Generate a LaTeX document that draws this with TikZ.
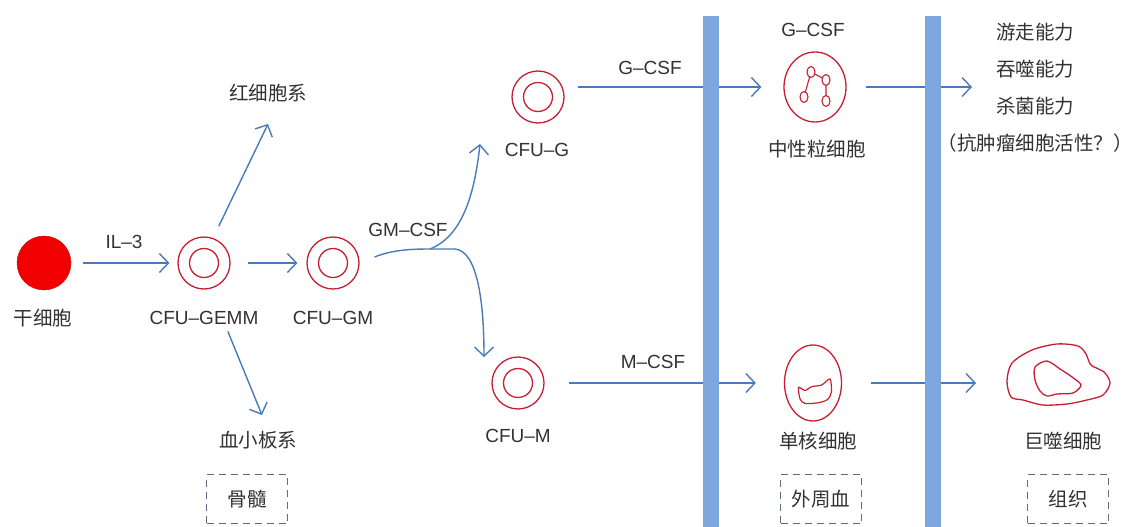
\documentclass[tikz,border=0pt]{standalone}
\usepackage{fontspec}
\setmainfont{Liberation Sans}
\newfontfamily\cjk{Noto Sans CJK SC}
\usetikzlibrary{arrows.meta,shapes.geometric}
\definecolor{cellred}{RGB}{200,30,50}
\definecolor{stemred}{RGB}{240,0,0}
\definecolor{flowblue}{RGB}{74,122,184}
\definecolor{barblue}{RGB}{126,166,222}
\definecolor{txtgray}{RGB}{50,50,50}
\definecolor{boxgray}{RGB}{95,108,128}
\tikzset{
  flowline/.style={draw=flowblue, line width=1.4pt},
  flow/.style={flowline, -{Straight Barb[length=9pt,width=19pt]}},
  prog/.style={circle, draw=cellred, line width=1.3pt, minimum size=52pt, inner sep=0pt},
  mature/.style={ellipse, draw=cellred, line width=1.3pt, inner sep=0pt},
  lobe/.style={ellipse, draw=cellred, fill=white, line width=1.1pt, minimum width=8pt, minimum height=11pt, inner sep=0pt},
  lab/.style={text=txtgray, font=\fontsize{19}{22}\selectfont, inner sep=1pt},
  zh/.style={text=txtgray, font=\cjk\fontsize{19.5}{22}\selectfont, inner sep=1pt},
  tissue/.style={zh, draw=boxgray, line width=1.2pt, dash pattern=on 7pt off 5pt,
    minimum width=81pt, minimum height=49pt}
}
\begin{document}
\begin{tikzpicture}[x=1pt,y=-1pt]
  \useasboundingbox (0,0) rectangle (1136,527);
  % cells
  \node[circle, fill=stemred, draw=stemred!85!black, minimum size=54pt, inner sep=0pt] (stem) at (44,263) {};
  \foreach \n/\p in {gemm/{(204,263)}, gm/{(333,263)}, cfug/{(538,97)}, cfum/{(518,383)}}
    \node[prog] (\n) at \p {};
  \foreach \n in {gemm,gm,cfug,cfum}
    \draw[cellred, line width=1.3pt] (\n) circle (14.5pt);
  \node[mature, minimum width=62pt, minimum height=70pt] (neut) at (815,87) {};
  \node[mature, minimum width=57pt, minimum height=76pt] (mono) at (813,383) {};
  \begin{scope}[shift={(neut.center)}]
    \draw[cellred, line width=1.1pt] (-4,-15) -- (11,-7) -- (11,14) (-4,-15) -- (-11,10);
    \foreach \i/\p in {a/{(-4,-15)}, b/{(11,-7)}, c/{(-11,10)}, d/{(11,14)}}
      \node[lobe] (lobe-\i) at \p {};
  \end{scope}
  \begin{scope}[shift={(mono.center)}]
    \draw[cellred, line width=1.2pt] plot[smooth cycle, tension=0.45] coordinates
      {(-14.5,4.3) (-8,7.5) (-1.3,3.7) (8.7,2) (17,-4) (18.5,8.7) (15,16)
       (7,19.5) (-8,20.5) (-13,15.8)};
  \end{scope}
  \coordinate (macro) at (1058,383);
  \draw[cellred, line width=1.3pt] plot[smooth cycle, tension=0.5] coordinates
    {(1012,363) (1032,350) (1057,344) (1078,346) (1086,354) (1091,365) (1104,372)
     (1110,383) (1103,395) (1087,400) (1067,404) (1043,405) (1023,400) (1011,397) (1007,381)};
  \draw[cellred, line width=1.3pt] plot[smooth cycle, tension=0.5] coordinates
    {(1035,367) (1047,361) (1060,369) (1072,377) (1081,385) (1073,393) (1057,394)
     (1047,396) (1040,391) (1035,380)};
  % cell names
  \foreach \n/\p/\t in {stem-l/{(43,318)}/干细胞, ery/{(268,93)}/红细胞系, plt/{(258,440)}/血小板系,
      neut-l/{(817,149)}/中性粒细胞, mono-l/{(818,441)}/单核细胞, macro-l/{(1063,441)}/巨噬细胞}
    \node[zh] (\n) at \p {\t};
  \foreach \n/\p/\t in {gemm-l/{(204,318)}/CFU--GEMM, gm-l/{(333,318)}/CFU--GM,
      cfug-l/{(537,150)}/CFU--G, cfum-l/{(518,436)}/CFU--M}
    \node[lab] (\n) at \p {\t};
  \foreach \n/\p/\t in {il3/{(124,242)}/IL--3, gmcsf/{(408,230)}/GM--CSF, gcsf/{(650,68)}/G--CSF,
      mcsf/{(653,362)}/M--CSF, gcsf-top/{(813,30)}/G--CSF}
    \node[lab] (\n) at \p {\t};
  \node[zh, align=center, font=\cjk\fontsize{19.5}{37}\selectfont] (abil) at (1035,88)
    {游走能力\\吞噬能力\\杀菌能力\\（抗肿瘤细胞活性？）};
  % arrows
  \coordinate (ery-in) at (268,124);
  \coordinate (plt-in) at (262,415);
  \coordinate (split) at (430,249);
  \coordinate (cfug-in) at (480,144);
  \coordinate (cfum-in) at (484,357);
  \coordinate (abil-in) at (972,87);
  \coordinate (macro-in) at (976,383);
  \draw[flow, shorten <=12pt, shorten >=8pt] (stem) -- (gemm);
  \draw[flow, shorten <=17pt, shorten >=9pt] (gemm) -- (gm);
  \draw[flow, shorten <=13pt] (gemm.70) -- (ery-in);
  \draw[flow, shorten <=46pt] (gemm.-76) -- (plt-in);
  \draw[flowline, shorten <=16pt] (gm.east) .. controls (392,250) and (410,249) .. (split);
  \draw[flow] (split) .. controls (460,237) and (474,200) .. (cfug-in);
  \draw[flow] (split) -- (455,249) .. controls (477,251) and (484,300) .. (cfum-in);
  \draw[flow, shorten <=13pt, shorten >=22pt] (cfug.east |- neut) -- (neut.west);
  \draw[flow, shorten <=24pt, shorten >=28pt] (cfum.east |- mono) -- (mono.west);
  \draw[flow, shorten <=19pt] (neut.east) -- (abil-in);
  \draw[flow, shorten <=29pt] (mono.east) -- (macro-in);
  % barriers
  \fill[barblue] (703,16) rectangle (719,527);
  \fill[barblue] (925,16) rectangle (941,527);
  % compartments
  \foreach \n/\p/\t in {marrow/{(247,499)}/骨髓, blood/{(821,499)}/外周血, tissue-box/{(1068,499)}/组织}
    \node[tissue] (\n) at \p {\t};
\end{tikzpicture}
\end{document}
